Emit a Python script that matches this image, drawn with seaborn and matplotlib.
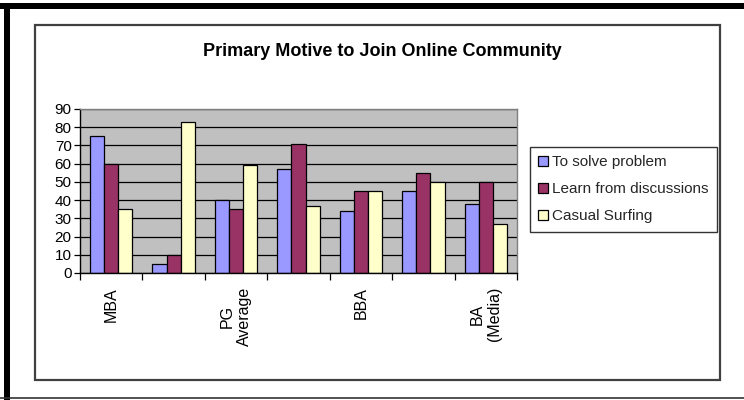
import pandas as pd
import matplotlib.pyplot as plt
import seaborn as sns
from matplotlib.patches import Rectangle
from matplotlib.lines import Line2D

# Data
groups = ["MBA", "Group 2", "PG Average", "Group 4", "BBA", "Group 6", "BA (Media)"]
tick_labels = ["MBA", "", "PG\nAverage", "", "BBA", "", "BA\n(Media)"]
series = ["To solve problem", "Learn from discussions", "Casual Surfing"]
solve_problem = [75, 5, 40, 57, 34, 45, 38]
learn_discussions = [60, 10, 35, 71, 45, 55, 50]
casual_surfing = [35, 83, 59, 37, 45, 50, 27]
colors = ["#9999FF", "#993366", "#FFFFCC"]

df = pd.DataFrame({
    "group": groups * 3,
    "motive": [series[0]] * 7 + [series[1]] * 7 + [series[2]] * 7,
    "value": solve_problem + learn_discussions + casual_surfing,
})

sns.set_theme(style="white")
plt.rcParams["font.family"] = ["Liberation Sans", "DejaVu Sans"]

fig = plt.figure(figsize=(7.44, 4.0), dpi=100)
W, H = 744, 400

# frames around the chart
fig.patches.append(Rectangle((0, 1 - 9 / H), 1, 6 / H, transform=fig.transFigure,
                             facecolor="black", edgecolor="none", zorder=0))
fig.patches.append(Rectangle((4 / W, 0), 6 / W, 1 - 3 / H, transform=fig.transFigure,
                             facecolor="black", edgecolor="none", zorder=0))
fig.lines.append(Line2D([0, 1], [2 / H, 2 / H], transform=fig.transFigure,
                        color="#333333", linewidth=1.2))
fig.patches.append(Rectangle((35 / W, 20 / H), 685 / W, 355 / H, transform=fig.transFigure,
                             facecolor="none", edgecolor="#404040", linewidth=1.6, zorder=0))

ax = fig.add_axes([80 / W, 1 - 273 / H, 437 / W, 164 / H])
ax.set_facecolor("#C0C0C0")

sns.barplot(data=df, x="group", y="value", hue="motive", order=groups,
            hue_order=series, palette=colors, width=0.68, edgecolor="black",
            linewidth=0.9, saturation=1, ax=ax, legend=True)

ax.set_ylim(0, 90)
ax.set_xlim(-0.5, 6.5)
ax.set_yticks(range(0, 91, 10))
ax.yaxis.grid(True, color="black", linewidth=0.9)
ax.set_axisbelow(True)
ax.tick_params(axis="y", left=True, length=4, width=0.9, color="black",
               labelsize=11, pad=2, labelcolor="black")

ax.set_xticks(range(7))
ax.set_xticklabels(tick_labels, rotation=90, va="top", ha="center",
                   multialignment="center", fontsize=11.5, color="black")
ax.tick_params(axis="x", which="major", length=0, pad=10)
ax.set_xticks([i - 0.5 for i in range(8)], minor=True)
ax.tick_params(axis="x", which="minor", bottom=True, length=5, width=0.9, color="black")

ax.set_xlabel("")
ax.set_ylabel("")
for side in ["left", "bottom"]:
    ax.spines[side].set_color("black")
    ax.spines[side].set_linewidth(1)
for side in ["top", "right"]:
    ax.spines[side].set_color("#808080")
    ax.spines[side].set_linewidth(1)

fig.text(382 / W, 1 - 52 / H, "Primary Motive to Join Online Community",
         ha="center", va="center", fontsize=13, fontweight="bold", color="black")

handles, labels = ax.get_legend_handles_labels()
ax.legend_.remove()
leg = fig.legend(handles, labels, loc="upper left",
                 bbox_to_anchor=(530 / W, 1 - 147 / H), frameon=True,
                 fontsize=11, handlelength=0.6, handleheight=0.6,
                 handletextpad=0.3, labelspacing=0.85, borderpad=0.55,
                 borderaxespad=0, fancybox=False)
leg.get_frame().set_edgecolor("black")
leg.get_frame().set_linewidth(1)

fig.savefig("out.png", dpi=100)
